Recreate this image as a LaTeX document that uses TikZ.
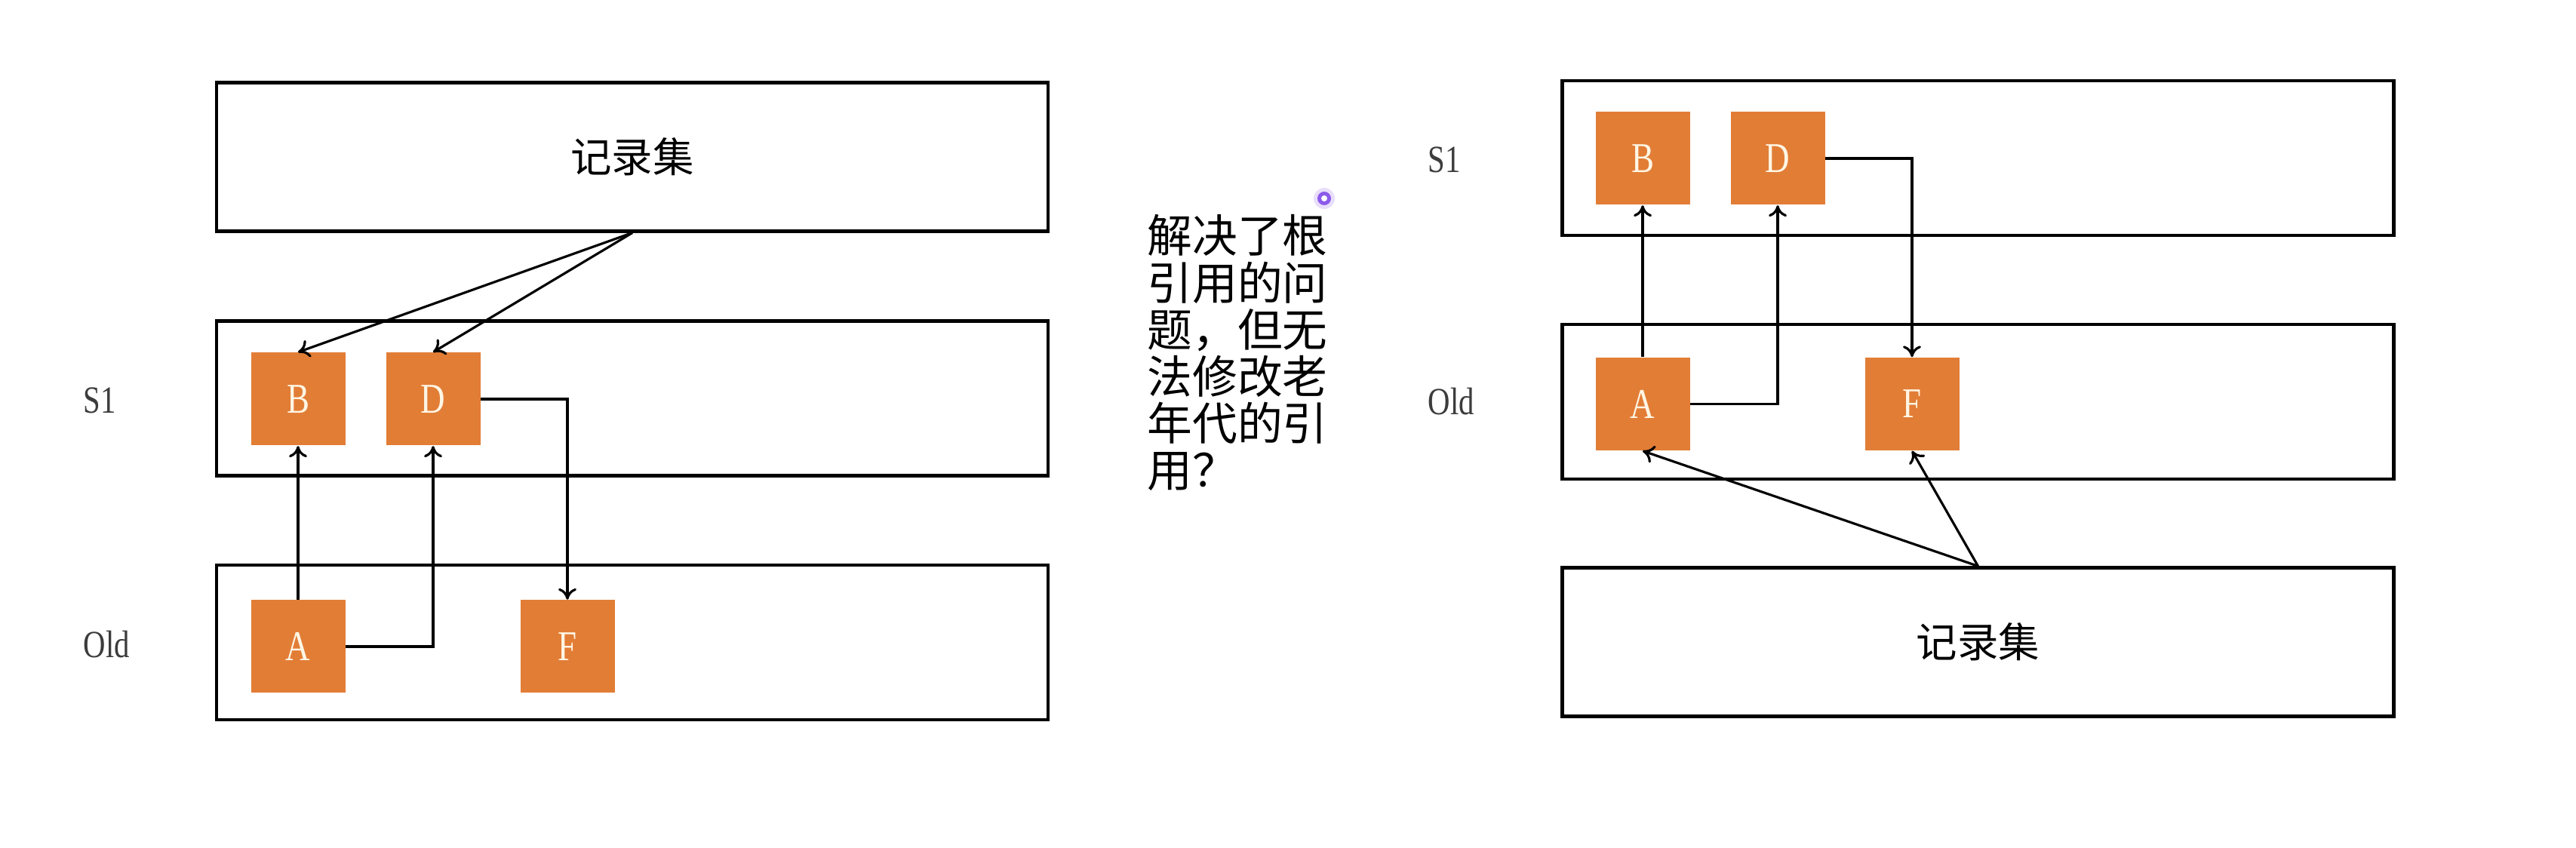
\documentclass[tikz,border=0pt]{standalone}
\usepackage{fontspec}
\usepackage{graphicx}
\newfontfamily\cjk{Noto Sans CJK SC}
\newfontfamily\boxserif{Liberation Serif}
\usetikzlibrary{arrows.meta,positioning}
\definecolor{blockorange}{RGB}{226,125,54}
\definecolor{lettercream}{RGB}{255,246,228}
\definecolor{labelgray}{RGB}{60,60,60}
\definecolor{cursorviolet}{RGB}{140,90,235}
\newcommand{\narrowtxt}[1]{\scalebox{0.8}[1]{#1}}

\begin{document}
\begin{tikzpicture}[x=1cm,y=1cm,
  strip/.style={draw,line width=1.2pt,minimum width=11.02cm,minimum height=2.05cm,inner sep=0pt},
  recbox/.style={strip,minimum height=1.97cm,font=\cjk\fontsize{15.5}{15.5}\selectfont},
  obj/.style={fill=blockorange,text=lettercream,minimum width=1.25cm,minimum height=1.23cm,inner sep=0pt,font=\boxserif\fontsize{16}{16}\selectfont},
  gen/.style={text=labelgray,anchor=west,inner sep=0pt,font=\boxserif\fontsize{14.5}{14.5}\selectfont},
  ref/.style={-{To[length=1.5mm,width=2.4mm]},line width=0.9pt}]
\useasboundingbox[fill=white] (0,0) rectangle (34.14,11.24);

% left: record set on top
\node[recbox] (lrec) at (8.38,9.16) {记录集};
\node[strip] (ls1) at (8.38,5.96) {};
\node[strip] (lold) at (8.38,2.725) {};
\node[gen] (ls1lab) at (1.10,5.93) {\narrowtxt{S1}};
\node[gen] (loldlab) at (1.10,2.70) {\narrowtxt{Old}};
\node[obj] (lB) at (3.95,5.95) {\narrowtxt{B}};
\node[obj] (lD) at (5.74,5.95) {\narrowtxt{D}};
\node[obj] (lA) at (3.95,2.67) {\narrowtxt{A}};
\node[obj] (lF) at (7.52,2.67) {\narrowtxt{F}};
\draw[ref] (lrec.south) -- (lB.north);
\draw[ref] (lrec.south) -- (lD.north);
\draw[ref] (lA.north) -- (lB.south);
\draw[ref] (lA.east) -| (lD.south);
\draw[ref] (lD.east) -| (lF.north);

% note in the middle
\node[align=left,anchor=north west,inner sep=0pt,font=\cjk\fontsize{17}{17.7}\selectfont] (note) at (15.2,8.40)
  {解决了根\\引用的问\\题，但无\\法修改老\\年代的引\\用？};
\fill[cursorviolet!20] (17.55,8.61) circle (0.14);
\fill[cursorviolet] (17.55,8.61) circle (0.09);
\fill[white] (17.55,8.61) circle (0.04);

% right: record set below
\node[strip] (rs1) at (26.215,9.145) {};
\node[strip] (rold) at (26.215,5.915) {};
\node[recbox] (rrec) at (26.215,2.73) {记录集};
\node[gen] (rs1lab) at (18.92,9.12) {\narrowtxt{S1}};
\node[gen] (roldlab) at (18.92,5.92) {\narrowtxt{Old}};
\node[obj] (rB) at (21.77,9.14) {\narrowtxt{B}};
\node[obj] (rD) at (23.56,9.14) {\narrowtxt{D}};
\node[obj] (rA) at (21.77,5.885) {\narrowtxt{A}};
\node[obj] (rF) at (25.34,5.885) {\narrowtxt{F}};
\draw[ref] (rA.north) -- (rB.south);
\draw[ref] (rA.east) -| (rD.south);
\draw[ref] (rD.east) -| (rF.north);
\draw[ref] (rrec.north) -- (rA.south);
\draw[ref] (rrec.north) -- (rF.south);
\end{tikzpicture}
\end{document}
